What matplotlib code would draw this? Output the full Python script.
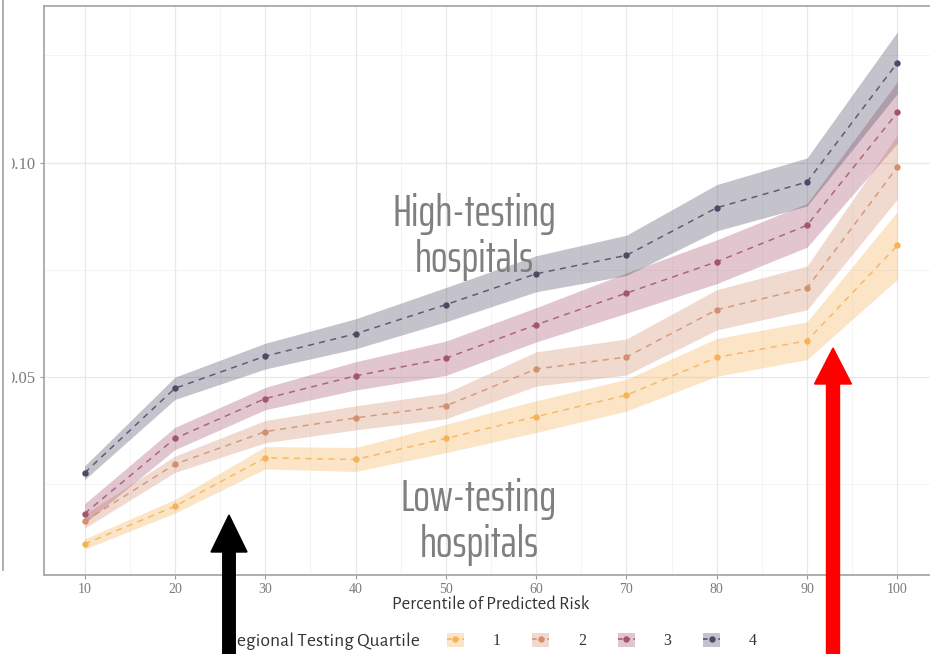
import matplotlib
matplotlib.use("Agg")
import matplotlib.pyplot as plt
from matplotlib import font_manager as fm
from matplotlib.patches import Patch, FancyArrow, Rectangle
from matplotlib.lines import Line2D
from matplotlib.transforms import Affine2D

# ---- data -----------------------------------------------------------------
percentile = [10, 20, 30, 40, 50, 60, 70, 80, 90, 100]
quartiles = ["1", "2", "3", "4"]

q1_mid = [0.0111, 0.0199, 0.0312, 0.0308, 0.0357, 0.0408, 0.0458, 0.0546, 0.0585, 0.0807]
q1_lo = [0.0099, 0.0183, 0.0286, 0.0280, 0.0324, 0.0371, 0.0421, 0.0502, 0.0541, 0.0728]
q1_hi = [0.0123, 0.0215, 0.0338, 0.0336, 0.0390, 0.0445, 0.0495, 0.0590, 0.0629, 0.0886]

q2_mid = [0.0164, 0.0297, 0.0373, 0.0405, 0.0433, 0.0519, 0.0547, 0.0657, 0.0708, 0.0990]
q2_lo = [0.0148, 0.0278, 0.0347, 0.0377, 0.0403, 0.0479, 0.0505, 0.0610, 0.0657, 0.0915]
q2_hi = [0.0180, 0.0316, 0.0399, 0.0433, 0.0463, 0.0559, 0.0589, 0.0704, 0.0759, 0.1065]

q3_mid = [0.0182, 0.0357, 0.0450, 0.0503, 0.0544, 0.0622, 0.0696, 0.0769, 0.0854, 0.1117]
q3_lo = [0.0159, 0.0331, 0.0424, 0.0470, 0.0504, 0.0582, 0.0649, 0.0718, 0.0803, 0.1045]
q3_hi = [0.0205, 0.0383, 0.0476, 0.0536, 0.0584, 0.0662, 0.0743, 0.0820, 0.0905, 0.1189]

q4_mid = [0.0277, 0.0474, 0.0549, 0.0601, 0.0669, 0.0741, 0.0784, 0.0895, 0.0955, 0.1233]
q4_lo = [0.0261, 0.0448, 0.0519, 0.0566, 0.0629, 0.0699, 0.0737, 0.0841, 0.0899, 0.1161]
q4_hi = [0.0293, 0.0500, 0.0579, 0.0636, 0.0709, 0.0783, 0.0831, 0.0949, 0.1011, 0.1305]

x_ticks = [10, 20, 30, 40, 50, 60, 70, 80, 90, 100]
x_minor = [15, 25, 35, 45, 55, 65, 75, 85, 95]
y_ticks = [0.05, 0.10]
y_tick_labels = ["0.05", "0.10"]
y_minor = [0.025, 0.075, 0.125]

colors = ["#F6B257", "#D38F6E", "#A5546E", "#4C4A67"]
series = [
    (q1_mid, q1_lo, q1_hi),
    (q2_mid, q2_lo, q2_hi),
    (q3_mid, q3_lo, q3_hi),
    (q4_mid, q4_lo, q4_hi),
]

LABEL_FONT = ["Alegreya Sans", "Lato", "DejaVu Sans"]
TICK_FONT = ["Liberation Serif", "DejaVu Serif"]

# condensed face for the two call-outs: first installed one wins
_installed = {f.name for f in fm.fontManager.ttflist}
NOTE_FONT = next((n for n in ["Saira ExtraCondensed", "Saira Extra Condensed",
                              "Saira Condensed", "Pathway Gothic One",
                              "Roboto Condensed", "Barlow Condensed", "Abel"]
                  if n in _installed), "DejaVu Sans")

W, H = 930, 654
fig = plt.figure(figsize=(W / 100, H / 100), dpi=100)
fig.patch.set_facecolor("white")
# pixel coordinates measured from the bottom-left corner of the canvas
px = Affine2D().scale(1 / 100) + fig.dpi_scale_trans

# panel spans past the right edge of the canvas
ax = fig.add_axes([44 / W, 1 - 575 / H, 894 / W, 569 / H])
ax.set_xlim(5.5, 104.5)
ax.set_ylim(0.00387, 0.13653)

# grid
for xv in x_minor:
    ax.axvline(xv, color="#F3F3F3", lw=0.6, zorder=0)
for yv in y_minor:
    ax.axhline(yv, color="#F2F2F2", lw=0.6, zorder=0)
for xv in x_ticks:
    ax.axvline(xv, color="#E8E8E8", lw=0.9, zorder=0)
for yv in y_ticks:
    ax.axhline(yv, color="#E8E8E8", lw=0.9, zorder=0)

# ribbons, dashed lines and points
for (mid, lo, hi), c in zip(series, colors):
    ax.fill_between(percentile, lo, hi, color=c, alpha=0.33, lw=0, zorder=2)
for (mid, lo, hi), c in zip(series, colors):
    ax.plot(percentile, mid, color=c, lw=1.1, ls=(0, (4, 3.5)), alpha=0.85, zorder=3)
    ax.plot(percentile, mid, ls="none", marker="o", ms=4.6, color=c,
            markeredgewidth=0, zorder=4)

ax.set_xticks(x_ticks)
ax.set_xticklabels([str(v) for v in x_ticks])
ax.set_yticks(y_ticks)
ax.set_yticklabels(y_tick_labels)
ax.tick_params(axis="both", direction="out", length=3, width=0.8, color="#9A9A9A",
               labelcolor="#7A7A7A", labelsize=10, pad=2.5)
ax.tick_params(axis="y", labelsize=12, pad=3)
for lab in ax.get_xticklabels() + ax.get_yticklabels():
    lab.set_family(TICK_FONT)
for s in ax.spines.values():
    s.set_color("#A8A8A8")
    s.set_linewidth(1.3)

ax.set_xlabel("Percentile of Predicted Risk", fontsize=13.4, color="#333333",
              family=LABEL_FONT, labelpad=0)

# call-outs, sized so "High-testing" is about 164 px wide
note = dict(ha="center", va="baseline", fontsize=30, color="#7F7F7F",
            family=NOTE_FONT, transform=px, zorder=5)
notes = [
    fig.text(474, H - 226, "High-testing", **note),
    fig.text(474, H - 272, "hospitals", **note),
    fig.text(479, H - 511, "Low-testing", **note),
    fig.text(479, H - 557, "hospitals", **note),
]
renderer = fig.canvas.get_renderer()
width_now = notes[0].get_window_extent(renderer).width
size = 30 * 164 / width_now
for t in notes:
    t.set_fontsize(size)

# legend
handles = []
for c in colors:
    box = Patch(facecolor=c, alpha=0.33, edgecolor="none")
    ln = Line2D([], [], color=c, lw=1.1, ls=(0, (3, 2)), marker="o", ms=4.6,
                markeredgewidth=0)
    handles.append((box, ln))
fig.legend(handles, quartiles, ncol=4, frameon=False, loc="center left",
           bbox_to_anchor=(439 / W, 1 - 641 / H),
           prop={"family": TICK_FONT, "size": 11.5},
           handlelength=1.05, handleheight=1.05, handletextpad=1.8,
           columnspacing=2.0, borderpad=0, labelcolor="#333333")
fig.text(226, H - 641, "Regional Testing Quartile", ha="left", va="center",
         fontsize=14.1, color="#333333", family=LABEL_FONT, transform=px)

# neighbouring panel edge on the far left, overlapping the y labels
fig.add_artist(Rectangle((0, H - 572), 11.5, 572, transform=px, facecolor="white",
                         edgecolor="none", zorder=8))
fig.add_artist(Line2D([2.5, 2.5], [H, H - 570], transform=px, color="#A8A8A8",
                      lw=1.3, zorder=9))

# arrows
fig.add_artist(FancyArrow(229, -10, 0, (H - 515) + 10, width=12.5, head_width=36,
                          head_length=37, length_includes_head=True,
                          color="black", transform=px, zorder=10))
fig.add_artist(FancyArrow(833, -10, 0, (H - 348) + 10, width=13, head_width=37,
                          head_length=36, length_includes_head=True,
                          color="#FF0000", transform=px, zorder=10))

fig.savefig("out.png", dpi=100, facecolor="white")
